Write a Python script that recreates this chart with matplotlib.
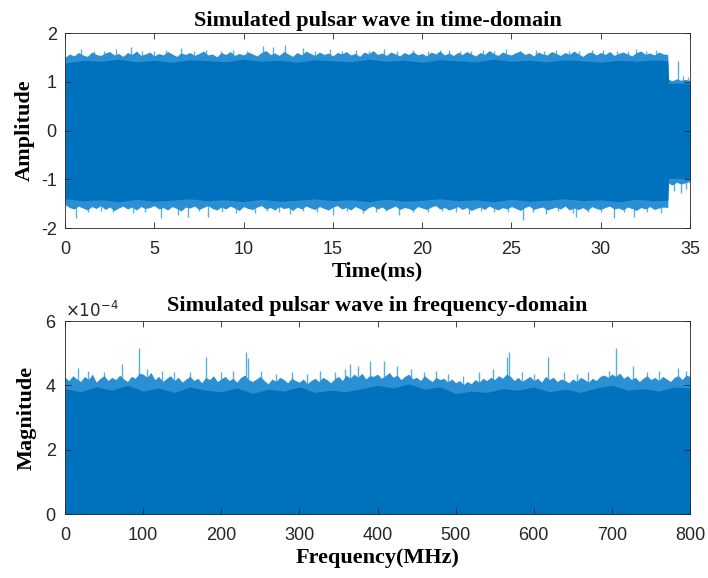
import numpy as np
import matplotlib
matplotlib.use("Agg")
import matplotlib.pyplot as plt
from matplotlib.ticker import ScalarFormatter

plt.rcParams['axes.unicode_minus'] = False

# ---- time domain: envelope, every 0.25 ms up to 33.5 ms ----
up_main = [1.50, 1.57, 1.53, 1.60, 1.55, 1.52, 1.61, 1.56, 1.54, 1.59,
           1.62, 1.55, 1.58, 1.52, 1.60, 1.56, 1.63, 1.54, 1.57, 1.61,
           1.53, 1.58, 1.55, 1.62, 1.57, 1.52, 1.59, 1.56, 1.60, 1.54,
           1.58, 1.63, 1.55, 1.57, 1.51, 1.60, 1.56, 1.62, 1.54, 1.58,
           1.55, 1.61, 1.57, 1.53, 1.60, 1.64, 1.56, 1.59, 1.54, 1.62,
           1.57, 1.52, 1.60, 1.55, 1.63, 1.58, 1.54, 1.61, 1.56, 1.59,
           1.53, 1.60, 1.57, 1.62, 1.55, 1.58, 1.52, 1.61, 1.57, 1.64,
           1.56, 1.59, 1.54, 1.61, 1.57, 1.53, 1.60, 1.56, 1.62, 1.55,
           1.58, 1.53, 1.61, 1.57, 1.63, 1.55, 1.59, 1.54, 1.60, 1.56,
           1.62, 1.57, 1.53, 1.60, 1.56, 1.64, 1.58, 1.54, 1.61, 1.57,
           1.55, 1.60, 1.63, 1.56, 1.59, 1.53, 1.61, 1.57, 1.55, 1.62,
           1.58, 1.54, 1.60, 1.56, 1.63, 1.57, 1.52, 1.59, 1.61, 1.55,
           1.60, 1.56, 1.62, 1.54, 1.58, 1.61, 1.57, 1.53, 1.60, 1.63,
           1.56, 1.59, 1.55, 1.61, 1.57]
low_main = [-1.52, -1.58, -1.61, -1.55, -1.59, -1.63, -1.56, -1.60, -1.54, -1.62,
            -1.57, -1.64, -1.59, -1.55, -1.61, -1.57, -1.63, -1.56, -1.60, -1.58,
            -1.54, -1.61, -1.58, -1.63, -1.56, -1.60, -1.65, -1.57, -1.59, -1.55,
            -1.62, -1.58, -1.54, -1.60, -1.63, -1.57, -1.61, -1.55, -1.59, -1.64,
            -1.56, -1.60, -1.62, -1.57, -1.54, -1.61, -1.58, -1.63, -1.56, -1.60,
            -1.58, -1.64, -1.57, -1.61, -1.55, -1.59, -1.62, -1.56, -1.60, -1.63,
            -1.57, -1.54, -1.61, -1.58, -1.63, -1.56, -1.60, -1.65, -1.58, -1.55,
            -1.61, -1.57, -1.63, -1.59, -1.55, -1.62, -1.58, -1.60, -1.64, -1.56,
            -1.59, -1.62, -1.57, -1.54, -1.61, -1.58, -1.63, -1.60, -1.56, -1.62,
            -1.58, -1.64, -1.60, -1.57, -1.62, -1.55, -1.59, -1.63, -1.58, -1.61,
            -1.56, -1.60, -1.64, -1.58, -1.55, -1.62, -1.59, -1.57, -1.63, -1.60,
            -1.57, -1.61, -1.55, -1.63, -1.59, -1.62, -1.58, -1.64, -1.56, -1.60,
            -1.62, -1.58, -1.55, -1.61, -1.59, -1.63, -1.57, -1.60, -1.64, -1.58,
            -1.61, -1.56, -1.62, -1.59, -1.57]
# the tail after the pulse ends (~33.8 ms)
t_tail = [33.75, 33.8, 34.0, 34.25, 34.5, 34.75, 35.0]
up_tail = [1.56, 1.05, 1.02, 1.06, 1.03, 1.05, 1.02]
low_tail = [-1.58, -1.08, -1.12, -1.06, -1.10, -1.07, -1.05]

# dense dark core, every 1 ms up to 33 ms, then the drop
core_hi = [1.38, 1.44, 1.42, 1.46, 1.41, 1.44, 1.40, 1.45, 1.43, 1.41,
           1.46, 1.42, 1.44, 1.40, 1.45, 1.43, 1.41, 1.46, 1.42, 1.44,
           1.40, 1.45, 1.43, 1.41, 1.46, 1.42, 1.44, 1.41, 1.45, 1.43,
           1.40, 1.44, 1.42, 1.45]
core_lo = [-1.40, -1.44, -1.42, -1.46, -1.41, -1.45, -1.43, -1.40, -1.44, -1.42,
           -1.46, -1.41, -1.45, -1.43, -1.40, -1.44, -1.42, -1.46, -1.41, -1.45,
           -1.43, -1.40, -1.44, -1.42, -1.46, -1.41, -1.45, -1.43, -1.40, -1.44,
           -1.42, -1.46, -1.41, -1.44]
core_tail_t = [33.75, 33.8, 35.0]
core_tail_hi = [1.43, 0.97, 0.97]
core_tail_lo = [-1.43, -0.98, -0.98]

# spikes above / below the envelope (time ms, amplitude)
spk_up_t = [0.91, 1.6, 2.2, 2.87, 3.71, 4.3, 5.0, 5.67, 6.51, 7.2, 7.9, 8.75, 9.4, 10.2,
            11.09, 11.65, 12.3, 13.33, 14.0, 14.82, 15.5, 16.3, 17.0, 17.88, 18.6, 19.47,
            20.3, 21.0, 21.52, 22.1, 22.74, 23.4, 24.0, 24.70, 25.5, 26.38, 26.84, 27.5,
            28.2, 28.80, 29.5, 30.11, 30.9, 31.5, 31.98, 32.54, 33.1, 34.3, 34.6, 34.9]
spk_up_v = [1.67, 1.63, 1.64, 1.67, 1.71, 1.64, 1.63, 1.66, 1.69, 1.63, 1.65, 1.63, 1.66, 1.64,
            1.73, 1.71, 1.75, 1.69, 1.64, 1.67, 1.64, 1.66, 1.63, 1.67, 1.64, 1.66,
            1.63, 1.65, 1.66, 1.64, 1.63, 1.65, 1.63, 1.68, 1.64, 1.66, 1.64, 1.65,
            1.63, 1.64, 1.65, 1.66, 1.64, 1.63, 1.68, 1.64, 1.66, 1.43, 1.12, 1.10]
spk_lo_t = [0.6, 1.3, 2.0, 2.7, 3.81, 4.5, 5.39, 6.33, 6.89, 7.5, 8.01, 8.8, 9.59, 10.62,
            11.3, 12.0, 12.58, 13.3, 14.1, 15.01, 15.8, 16.69, 17.4, 18.0, 18.73, 19.5,
            20.3, 21.1, 21.9, 22.64, 23.3, 24.0, 24.8, 25.63, 26.2, 26.94, 27.6, 28.43,
            28.62, 29.3, 30.0, 30.76, 31.3, 31.88, 32.6, 33.38, 34.1, 34.5, 34.8]
spk_lo_v = [-1.79, -1.68, -1.66, -1.68, -1.70, -1.67, -1.80, -1.73, -1.77, -1.66, -1.77, -1.67,
            -1.70, -1.70, -1.66, -1.68, -1.72, -1.66, -1.68, -1.73, -1.66, -1.70, -1.67, -1.66,
            -1.73, -1.67, -1.68, -1.66, -1.67, -1.72, -1.66, -1.68, -1.67, -1.84, -1.67, -1.72,
            -1.66, -1.70, -1.77, -1.67, -1.68, -1.79, -1.67, -1.77, -1.68, -1.70, -1.24, -1.28,
            -1.20]

# ---- frequency domain (MHz, magnitude in units of 1e-4), envelope every 5 MHz ----
mag_env = [4.25, 4.15, 4.30, 4.20, 4.12, 4.28, 4.18, 4.35, 4.10, 4.22,
           4.30, 4.15, 4.25, 4.18, 4.32, 4.20, 4.12, 4.28, 4.22, 4.38,
           4.35, 4.25, 4.40, 4.18, 4.28, 4.12, 4.22, 4.30, 4.15, 4.25,
           4.10, 4.20, 4.28, 4.15, 4.22, 4.08, 4.25, 4.18, 4.30, 4.12,
           4.20, 4.28, 4.15, 4.22, 4.10, 4.25, 4.32, 4.18, 4.12, 4.20,
           4.28, 4.15, 4.05, 4.20, 4.12, 4.25, 4.18, 4.08, 4.22, 4.15,
           4.10, 4.20, 4.05, 4.15, 4.22, 4.12, 4.25, 4.18, 4.08, 4.20,
           4.28, 4.15, 4.32, 4.22, 4.35, 4.25, 4.38, 4.20, 4.30, 4.28,
           4.35, 4.22, 4.30, 4.40, 4.25, 4.32, 4.18, 4.28, 4.35, 4.20,
           4.25, 4.15, 4.30, 4.20, 4.12, 4.25, 4.18, 4.22, 4.10, 4.20,
           4.08, 4.15, 4.02, 4.12, 4.05, 4.18, 4.10, 4.22, 4.15, 4.25,
           4.18, 4.30, 4.22, 4.35, 4.28, 4.15, 4.25, 4.12, 4.20, 4.28,
           4.15, 4.22, 4.10, 4.28, 4.18, 4.25, 4.12, 4.20, 4.15, 4.08,
           4.20, 4.12, 4.25, 4.18, 4.10, 4.22, 4.15, 4.28, 4.32, 4.25,
           4.35, 4.28, 4.38, 4.22, 4.30, 4.18, 4.25, 4.12, 4.22, 4.30,
           4.18, 4.25, 4.15, 4.28, 4.20, 4.12, 4.25, 4.30, 4.18, 4.32,
           4.28]
# dark core every 20 MHz
mag_core = [3.90, 3.80, 3.95, 3.85, 4.00, 3.82, 3.92, 3.78, 3.95, 3.85,
            3.80, 3.92, 3.75, 3.88, 3.82, 3.95, 3.78, 3.85, 3.80, 3.90,
            4.00, 3.92, 4.05, 3.88, 3.95, 3.75, 3.82, 3.78, 3.90, 3.85,
            3.95, 3.80, 3.88, 3.78, 3.92, 4.00, 3.85, 3.90, 3.82, 3.95,
            3.92]
spk_f = [16.6, 29.4, 50, 73.4, 94.7, 105, 124.6, 140, 159.6, 180.9, 200, 215, 231.3, 234.2,
         251.3, 270, 290, 310, 326, 345, 358, 364.4, 375, 390, 408.7, 424.5, 442.9, 460,
         474.9, 490, 510, 530, 547.4, 565.4, 568.7, 585, 600, 618.6, 639.1, 655, 670,
         696.7, 705.3, 726.6, 745, 760, 784.3, 795]
spk_mag = [4.55, 4.45, 4.40, 4.65, 5.15, 4.50, 4.45, 4.40, 4.40, 4.89, 4.40, 4.45, 5.05, 4.85,
           4.45, 4.35, 4.40, 4.35, 4.45, 4.40, 4.50, 4.65, 4.60, 4.75, 4.75, 4.60, 4.50, 4.40,
           4.45, 4.35, 4.30, 4.40, 4.50, 4.89, 5.05, 4.40, 4.35, 4.89, 4.40, 4.35, 4.40,
           4.45, 5.15, 4.60, 4.40, 4.45, 4.55, 4.45]

dark = '#0072BD'
mid = '#2a8fd3'
light = '#5aaee0'
grey = '#262626'
serif = 'Liberation Serif'
sans = 'Liberation Sans'

t_env = np.concatenate([np.arange(len(up_main)) * 0.25, t_tail])
up_env = np.concatenate([up_main, up_tail])
low_env = np.concatenate([low_main, low_tail])
t_core = np.concatenate([np.arange(len(core_hi)) * 1.0, core_tail_t])
hi_core = np.concatenate([core_hi, core_tail_hi])
lo_core = np.concatenate([core_lo, core_tail_lo])
f_env = np.arange(len(mag_env)) * 5
f_core = np.arange(len(mag_core)) * 20

fig = plt.figure(figsize=(7.08, 5.78), dpi=100)
ax1 = fig.add_axes([0.0918, 0.6055, 0.8828, 0.3374])
ax2 = fig.add_axes([0.0918, 0.1107, 0.8828, 0.3339])

# time domain
ax1.vlines(spk_up_t, 0, spk_up_v, color=light, lw=1.0, zorder=0.5)
ax1.vlines(spk_lo_t, spk_lo_v, 0, color=light, lw=1.0, zorder=0.5)
ax1.fill_between(t_env, low_env, up_env, color=mid, lw=0, zorder=1)
ax1.fill_between(t_core, lo_core, hi_core, color=dark, lw=0, zorder=1.1)
ax1.set_xlim(0, 35)
ax1.set_ylim(-2, 2)
ax1.set_xticks(np.arange(0, 36, 5))
ax1.set_yticks([-2, -1, 0, 1, 2])
ax1.set_title('Simulated pulsar wave in time-domain', fontfamily=serif,
              fontweight='bold', fontsize=16, pad=5)
ax1.set_xlabel('Time(ms)', fontfamily=serif, fontweight='bold', fontsize=16, labelpad=3)
ax1.set_ylabel('Amplitude', fontfamily=serif, fontweight='bold', fontsize=16, labelpad=4)

# frequency domain
mag = lambda v: np.asarray(v) * 1e-4
ax2.vlines(spk_f, 0, mag(spk_mag), color=light, lw=1.0, zorder=0.5)
ax2.fill_between(f_env, 0, mag(mag_env), color=mid, lw=0, zorder=1)
ax2.fill_between(f_core, 0, mag(mag_core), color=dark, lw=0, zorder=1.1)
ax2.set_xlim(0, 800)
ax2.set_ylim(0, 6e-4)
ax2.set_xticks(np.arange(0, 801, 100))
ax2.set_yticks([0, 2e-4, 4e-4, 6e-4])
fmt = ScalarFormatter(useMathText=True)
fmt.set_powerlimits((0, 0))
ax2.yaxis.set_major_formatter(fmt)
ax2.yaxis.get_offset_text().set_fontsize(12)
ax2.yaxis.get_offset_text().set_color(grey)
ax2.set_title('Simulated pulsar wave in frequency-domain', fontfamily=serif,
              fontweight='bold', fontsize=16, pad=7)
ax2.set_xlabel('Frequency(MHz)', fontfamily=serif, fontweight='bold', fontsize=16, labelpad=3)
ax2.set_ylabel('Magnitude', fontfamily=serif, fontweight='bold', fontsize=16, labelpad=6)

for ax in (ax1, ax2):
    ax.tick_params(direction='in', top=True, right=True, length=4, width=0.6,
                   colors=grey, labelsize=13)
    ax.tick_params(axis='x', pad=9)
    ax.tick_params(axis='y', pad=6)
    for lab in ax.get_xticklabels() + ax.get_yticklabels():
        lab.set_fontfamily(sans)
    for s in ax.spines.values():
        s.set_color(grey)
        s.set_linewidth(0.6)

fig.savefig('out.png', dpi=100)
